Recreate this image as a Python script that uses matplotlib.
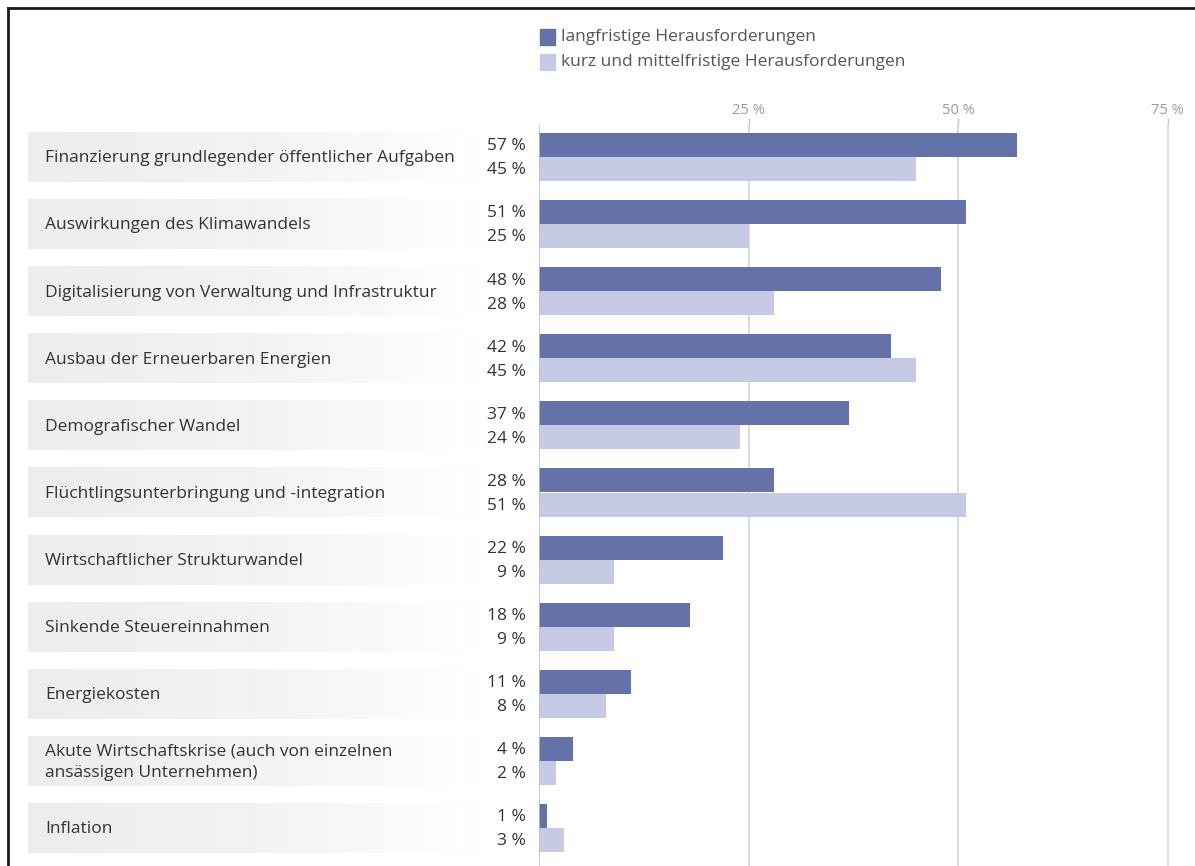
import matplotlib
matplotlib.use("Agg")
import matplotlib.pyplot as plt
import numpy as np
from matplotlib.colors import LinearSegmentedColormap

plt.rcParams['font.family'] = ['Open Sans', 'DejaVu Sans']

categories = [
    "Finanzierung grundlegender öffentlicher Aufgaben",
    "Auswirkungen des Klimawandels",
    "Digitalisierung von Verwaltung und Infrastruktur",
    "Ausbau der Erneuerbaren Energien",
    "Demografischer Wandel",
    "Flüchtlingsunterbringung und -integration",
    "Wirtschaftlicher Strukturwandel",
    "Sinkende Steuereinnahmen",
    "Energiekosten",
    "Akute Wirtschaftskrise (auch von einzelnen\nansässigen Unternehmen)",
    "Inflation",
]
langfristig = [57, 51, 48, 42, 37, 28, 22, 18, 11, 4, 1]
kurzmittel = [45, 25, 28, 45, 24, 51, 9, 9, 8, 2, 3]
series_names = ["langfristige Herausforderungen", "kurz und mittelfristige Herausforderungen"]
xticks = [25, 50, 75]
xtick_labels = ["25 %", "50 %", "75 %"]

W, H = 1195, 866
fig = plt.figure(figsize=(W / 100, H / 100), dpi=100)

dark = "#6571a9"
light = "#c6cae5"

# main axes geometry (pixels)
x0_px = 539
px_per_pct = 8.38
top_px, bot_px = 125, 866
row0_px, row_step = 157, 67.1

xmax = (W - x0_px) / px_per_pct
ytop = (top_px - row0_px) / row_step
ybot = (bot_px - row0_px) / row_step

ax = fig.add_axes([x0_px / W, 0, 1 - x0_px / W, (H - top_px) / H])
ax.set_xlim(0, xmax)
ax.set_ylim(ybot, ytop)

y = np.arange(len(categories))
bh = 24 / row_step
ax.barh(y - bh / 2, langfristig, height=bh, color=dark, zorder=3)
ax.barh(y + bh / 2, kurzmittel, height=bh, color=light, zorder=3)

for xt in xticks:
    ax.axvline(xt, color="#d4d4d4", lw=1.2, zorder=1)
ax.axvline(0, color="#bdbdbd", lw=1.2, zorder=4)

ax.set_xticks(xticks)
ax.set_xticklabels(xtick_labels)
ax.xaxis.tick_top()
ax.tick_params(axis="x", length=5, width=1, color="#c8c8c8", labelcolor="#9a9a9a",
               labelsize=10.5, pad=0)
ax.set_yticks([])
for s in ax.spines.values():
    s.set_visible(False)

# label area axes
lab = fig.add_axes([0, 0, x0_px / W, (H - top_px) / H])
lab.axis("off")

grad = np.linspace(0, 1, 256).reshape(1, -1)
cmap = LinearSegmentedColormap.from_list("g", ["#ededed", "#f3f3f3", "#ffffff"])
half = 25 / row_step
for i, cat in enumerate(categories):
    lab.imshow(grad, extent=[28, 480, i + half, i - half], aspect="auto",
               cmap=cmap, zorder=1, interpolation="bilinear")
    lab.text(45, i + 0.02, cat, ha="left", va="center", fontsize=12.5, color="#333333",
             linespacing=1.45, zorder=2)
    lab.text(526, i - bh / 2 + 0.02, f"{langfristig[i]} %", ha="right", va="center",
             fontsize=12.5, color="#333333", zorder=2)
    lab.text(526, i + bh / 2 + 0.02, f"{kurzmittel[i]} %", ha="right", va="center",
             fontsize=12.5, color="#333333", zorder=2)
lab.set_xlim(0, x0_px)
lab.set_ylim(ybot, ytop)

# legend
for j, (name, col) in enumerate(zip(series_names, [dark, light])):
    yc = 37 + j * 25
    fig.patches.append(matplotlib.patches.Rectangle(
        (540 / W, 1 - (yc + 8) / H), 15 / W, 16 / H, transform=fig.transFigure,
        color=col, figure=fig))
    fig.text(561 / W, 1 - yc / H, name, ha="left", va="center", fontsize=12.5,
             color="#555555")

# frame lines (left and top)
fig.add_artist(matplotlib.lines.Line2D([7.5 / W, 7.5 / W], [0, 1 - 8 / H],
                                       transform=fig.transFigure, color="#1a1a1a", lw=2))
fig.add_artist(matplotlib.lines.Line2D([7.5 / W, 1], [1 - 8 / H, 1 - 8 / H],
                                       transform=fig.transFigure, color="#1a1a1a", lw=2))

fig.savefig("out.png", dpi=100)
